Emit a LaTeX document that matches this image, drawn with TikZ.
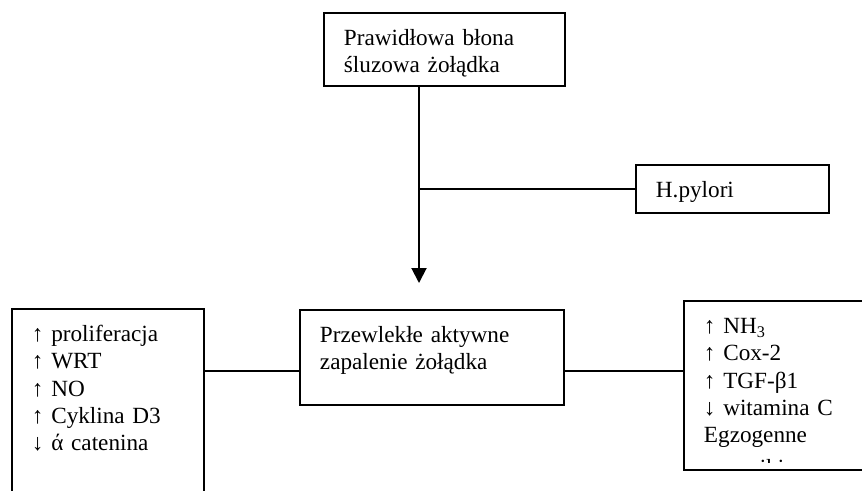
\documentclass[tikz,border=0pt]{standalone}
\usepackage{fontspec}
\setmainfont{Liberation Serif}
\usepackage{tikz}
\usetikzlibrary{arrows.meta}
\pgfdeclarelayer{bg}
\pgfsetlayers{bg,main}

\tikzset{
  box/.style={draw, line width=1.1pt, rectangle, anchor=north west, align=left,
    inner xsep=0.40cm, inner ysep=0cm, text height=0.66cm,
    font=\fontsize{13.2}{15.37}\selectfont},
  link/.style={line width=1.1pt}
}

\begin{document}
\begin{tikzpicture}
        \useasboundingbox (0cm, 0cm) rectangle (17.24cm, -9.80cm);
        \clip (0cm, 0cm) rectangle (17.24cm, -9.80cm);
        \node (v0) [box, text width=4.02cm, text depth=0.80cm] at (6.46cm, -0.24cm) {Prawidłowa błona\\śluzowa żołądka};
        \node (v1) [box, text width=3.06cm, text depth=0.30cm] at (12.70cm, -3.28cm) {H.pylori};
        \node (v2) [box, text width=4.48cm, text depth=1.24cm] at (5.98cm, -6.18cm) {Przewlekłe aktywne\\zapalenie żołądka};
        \node (v3) [box, text width=3.04cm, text depth=3.40cm] at (0.22cm, -6.16cm) {↑ proliferacja\\↑ WRT\\↑ NO\\↑ Cyklina D3\\↓ ά catenina};
        \node (v4) [box, text width=3.20cm, text depth=2.72cm] at (13.66cm, -6.00cm) {↑ NH\textsubscript{3}\\↑ Cox-2\\↑ TGF-β1\\↓ witamina C\\Egzogenne};
        \begin{scope}
                \clip (13.66cm, -6.00cm) rectangle (17.24cm, -9.24cm);
                \node (v5) [anchor=base west, inner sep=0pt, font=\fontsize{13.2}{15.37}\selectfont] at (14.08cm, -9.50cm) {czynniki};
        \end{scope}
        \coordinate (c0) at (8.38cm, -3.76cm);
        \coordinate (c1) at (8.38cm, -5.66cm);
        \coordinate (c2) at (0cm, -7.42cm);
        \begin{pgfonlayer}{bg}
                \draw [link, -{Triangle[width=0.30cm, length=0.30cm]}] (v0.south -| c0) -- (c1);
                \draw [link] (c0 |- v1.west) -- (v1.west);
                \draw [link] (v3.east |- c2) -- (v2.west |- c2);
                \draw [link] (v2.east |- c2) -- (v4.west |- c2);
        \end{pgfonlayer}
\end{tikzpicture}
\end{document}
